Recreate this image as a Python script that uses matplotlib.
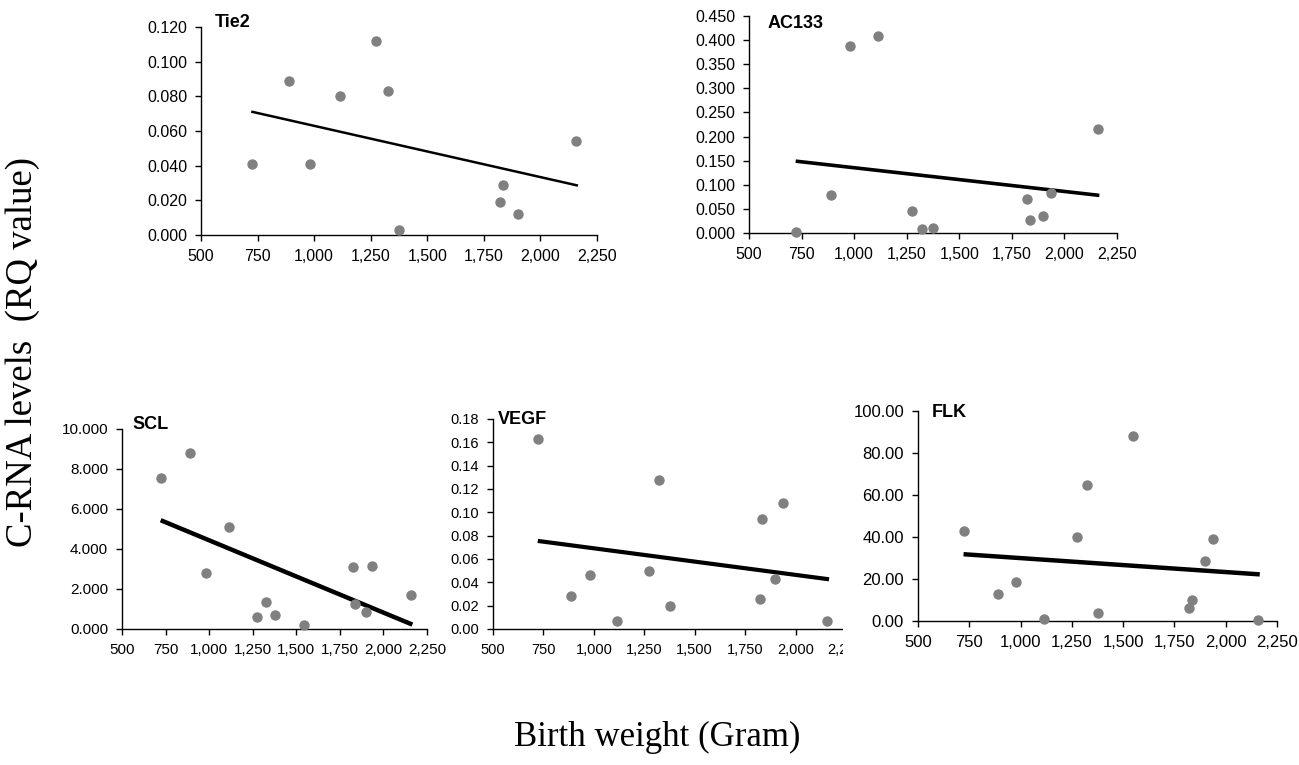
import matplotlib
matplotlib.use('Agg')
import matplotlib.pyplot as plt
from matplotlib.patches import Rectangle
from matplotlib.ticker import FuncFormatter
import numpy as np

nan = np.nan

# birth weight of each infant (gram)
birth_weight = [724, 888, 980, 1115, 1273, 1325, 1377, 1547, 1823, 1835, 1900, 1936, 2158]

# RQ values per gene (nan = not plotted)
tie2 = [0.041, 0.089, 0.041, 0.080, 0.112, 0.083, 0.003, nan, 0.019, 0.029, 0.012, nan, 0.054]
ac133 = [0.003, 0.079, 0.387, 0.408, 0.045, 0.008, 0.011, nan, 0.071, 0.027, 0.035, 0.083, 0.216]
scl = [7.53, 8.81, 2.80, 5.11, 0.60, 1.35, 0.70, 0.18, 3.11, 1.27, 0.85, 3.14, 1.72]
vegf = [0.163, 0.028, 0.046, 0.007, 0.050, 0.128, 0.020, nan, 0.026, 0.094, 0.043, 0.108, 0.007]
flk = [42.8, 13.0, 18.7, 0.8, 39.8, 65.0, 4.0, 88.3, 6.0, 10.0, 28.5, 39.0, 0.5]

# linear trend lines, read at both ends
trend_x = [722, 2166]
tie2_trend = [0.0712, 0.0285]
ac133_trend = [0.149, 0.078]
scl_trend = [5.44, 0.22]
vegf_trend = [0.0755, 0.0426]
flk_trend = [31.8, 22.2]

x_ticks = [500, 750, 1000, 1250, 1500, 1750, 2000, 2250]

W, H = 1299, 765


def px_rect(left, right, top, bottom):
    # pixel box -> figure fraction
    return [left / W, 1 - bottom / H, (right - left) / W, (bottom - top) / H]


panels = [
    dict(name='Tie2', y=tie2, trend=tie2_trend, rect=px_rect(201, 597, 27, 235),
         yticks=np.arange(0, 0.121, 0.02), fmt='%.3f', title_xy=(0.035, 1.02), lw=1.8, fs=11.5),
    dict(name='AC133', y=ac133, trend=ac133_trend, rect=px_rect(749, 1117, 16, 233),
         yticks=np.arange(0, 0.451, 0.05), fmt='%.3f', title_xy=(0.05, 0.965), lw=2.6, fs=11.5),
    dict(name='SCL', y=scl, trend=scl_trend, rect=px_rect(122, 427, 429, 629),
         yticks=np.arange(0, 10.01, 2), fmt='%.3f', title_xy=(0.034, 1.02), lw=3.2, fs=11),
    dict(name='VEGF', y=vegf, trend=vegf_trend, rect=px_rect(493, 846, 419, 629),
         yticks=np.arange(0, 0.181, 0.02), fmt='%.2f', title_xy=(0.013, 0.997), lw=3.0, fs=10.5),
    dict(name='FLK', y=flk, trend=flk_trend, rect=px_rect(918, 1277, 411, 621),
         yticks=np.arange(0, 100.1, 20), fmt='%.2f', title_xy=(0.038, 0.994), lw=3.2, fs=12),
]

fig = plt.figure(figsize=(W / 100, H / 100), dpi=100)

axes = {}
for p in panels:
    ax = fig.add_axes(p['rect'])
    ax.plot(birth_weight, p['y'], 'o', color='#808080', ms=7.5, mec='none', clip_on=False, zorder=3)
    ax.plot(trend_x, p['trend'], '-', color='black', lw=p['lw'], solid_capstyle='butt', zorder=2)
    ax.set_xlim(500, 2250)
    ax.set_xticks(x_ticks)
    ax.xaxis.set_major_formatter(FuncFormatter(lambda v, pos: '{:,}'.format(int(v))))
    ax.set_ylim(0, p['yticks'][-1])
    ax.set_yticks(p['yticks'])
    ax.yaxis.set_major_formatter(FuncFormatter(lambda v, pos, f=p['fmt']: f % v))
    for s in ['top', 'right']:
        ax.spines[s].set_visible(False)
    for s in ['left', 'bottom']:
        ax.spines[s].set_linewidth(1.0)
    ax.tick_params(axis='both', direction='out', length=4, width=1, labelsize=p['fs'])
    ax.tick_params(axis='x', pad=6)
    ax.tick_params(axis='y', pad=6)
    for lab in ax.get_xticklabels() + ax.get_yticklabels():
        lab.set_fontfamily('Liberation Sans')
    ax.text(p['title_xy'][0], p['title_xy'][1], p['name'], transform=ax.transAxes,
            fontsize=13, fontweight='bold', family='Liberation Sans', va='center', ha='left')
    axes[p['name']] = ax

# the FLK chart box sits on top of the right end of the VEGF chart
fig.patches.append(Rectangle((843 / W, 1 - 680 / H), (W - 843) / W, 280 / H,
                             transform=fig.transFigure, facecolor='white',
                             edgecolor='none', zorder=1))
axes['FLK'].set_zorder(2)

fig.text(23 / W, 1 - 352 / H, 'C-RNA levels  (RQ value)', rotation=90, ha='center', va='center',
         fontsize=26.5, family='Liberation Serif')
fig.text(657 / W, 1 - 746 / H, 'Birth weight (Gram)', ha='center', va='baseline',
         fontsize=25, family='Liberation Serif')

fig.savefig('out.png', dpi=100)
